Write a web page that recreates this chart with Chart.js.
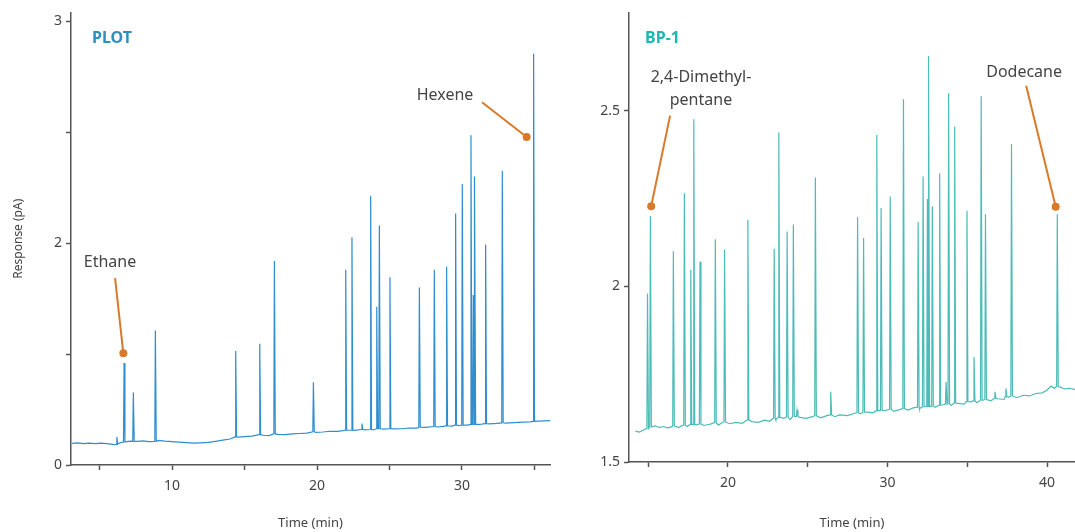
<!DOCTYPE html>
<html>
<head>
<meta charset="utf-8">
<script src="https://cdn.jsdelivr.net/npm/chart.js@4"></script>
<style>
  body { margin: 0; background: #fff; }
  .panel { position: absolute; top: 0; }
</style>
</head>
<body>
<div class="panel" style="left:0"><canvas id="plot" width="555" height="532"></canvas></div>
<div class="panel" style="left:560px"><canvas id="bp1" width="515" height="532"></canvas></div>
<script>
// PLOT column: baseline trace and peaks (time in min, response in pA)
const plotBaseTimes = [3.1, 3.5, 3.9, 4.3, 4.7, 5.1, 5.5, 5.9, 6.0, 6.4, 6.9, 7.1, 7.6, 8.0, 8.4, 9.1, 9.5, 10.0, 10.5, 11.0, 11.5, 12.0, 12.5, 13.0, 13.5, 14.0, 14.6, 15.0, 15.5, 16.3, 16.7, 17.3, 17.8, 18.3, 18.8, 19.3, 19.9, 20.4, 20.9, 21.4, 21.8, 22.6, 23.3, 23.9, 24.6, 25.3, 25.8, 26.4, 26.9, 27.5, 28.3, 28.7, 29.3, 29.8, 30.4, 31.2, 31.9, 32.4, 33.0, 33.6, 34.2, 34.7, 35.3, 35.7, 36.1];
const plotBaseValues = [0.146, 0.149, 0.145, 0.148, 0.144, 0.148, 0.145, 0.140, 0.137, 0.150, 0.158, 0.162, 0.160, 0.163, 0.158, 0.166, 0.161, 0.158, 0.154, 0.151, 0.148, 0.150, 0.153, 0.160, 0.168, 0.176, 0.188, 0.192, 0.195, 0.201, 0.199, 0.207, 0.205, 0.211, 0.213, 0.216, 0.221, 0.223, 0.228, 0.227, 0.232, 0.234, 0.238, 0.237, 0.242, 0.244, 0.245, 0.250, 0.249, 0.254, 0.257, 0.261, 0.263, 0.266, 0.270, 0.274, 0.278, 0.281, 0.283, 0.287, 0.290, 0.292, 0.296, 0.298, 0.300];
const plotPeakTimes = [6.19, 6.69, 7.33, 8.85, 14.39, 16.05, 17.06, 19.75, 21.98, 22.41, 23.1, 23.7, 24.12, 24.3, 25.03, 27.06, 28.09, 28.94, 29.56, 30.02, 30.62, 30.78, 30.88, 31.63, 32.78, 34.94];
const plotPeakTops = [0.19, 0.69, 0.49, 0.91, 0.77, 0.82, 1.38, 0.56, 1.32, 1.54, 0.28, 1.82, 1.07, 1.62, 1.27, 1.20, 1.32, 1.34, 1.70, 1.90, 2.23, 1.15, 1.95, 1.49, 1.99, 2.78];
const plotPeakBases = [0.14, 0.155, 0.16, 0.16, 0.19, 0.205, 0.21, 0.225, 0.235, 0.235, 0.24, 0.24, 0.245, 0.245, 0.245, 0.255, 0.26, 0.265, 0.27, 0.27, 0.275, 0.275, 0.275, 0.28, 0.285, 0.295];
const plotXTicks = [5, 10, 15, 20, 25, 30, 35];
const plotXLabels = ['', '10', '', '20', '', '30', ''];
const plotYTicks = [0, 0.75, 1.5, 2.25, 3];
const plotYLabels = ['0', '', '2', '', '3'];

// BP-1 column
const bpBaseTimes = [14.2, 14.45, 14.7, 15.45, 15.7, 15.95, 16.2, 16.45, 16.9, 17.1, 17.45, 18.0, 18.5, 18.9, 19.4, 19.6, 20.1, 20.5, 20.9, 21.5, 21.9, 22.3, 22.6, 23.0, 23.5, 23.9, 24.5, 24.9, 25.3, 25.8, 26.2, 26.7, 27.0, 27.5, 27.9, 28.3, 28.8, 29.1, 29.8, 30.4, 30.8, 31.3, 31.6, 32.0, 32.4, 33.0, 33.5, 34.0, 34.4, 34.8, 35.2, 35.6, 36.0, 36.5, 36.9, 37.3, 37.6, 38.1, 38.5, 38.9, 39.3, 39.7, 40.0, 40.25, 40.45, 40.8, 41.1, 41.4, 41.75];
const bpBaseValues = [1.588, 1.585, 1.591, 1.603, 1.598, 1.601, 1.597, 1.600, 1.598, 1.603, 1.601, 1.606, 1.604, 1.608, 1.605, 1.611, 1.609, 1.613, 1.610, 1.615, 1.613, 1.619, 1.616, 1.620, 1.624, 1.621, 1.627, 1.624, 1.629, 1.626, 1.632, 1.629, 1.634, 1.632, 1.638, 1.637, 1.642, 1.640, 1.646, 1.644, 1.650, 1.648, 1.654, 1.652, 1.658, 1.656, 1.663, 1.661, 1.667, 1.665, 1.671, 1.669, 1.676, 1.674, 1.680, 1.678, 1.685, 1.683, 1.690, 1.688, 1.695, 1.697, 1.705, 1.716, 1.710, 1.714, 1.708, 1.710, 1.706];
const bpPeakTimes = [14.96, 15.14, 16.58, 17.27, 17.67, 17.86, 18.25, 19.21, 19.79, 21.25, 22.9, 23.19, 23.71, 24.1, 24.33, 25.48, 26.44, 28.125, 28.5, 29.33, 29.6, 30.17, 31.0, 31.92, 32.23, 32.5, 32.58, 32.81, 33.27, 33.67, 33.83, 34.21, 34.98, 35.42, 35.87, 36.14, 36.73, 37.42, 37.77, 40.64];
const bpPeakTops = [1.98, 2.20, 2.10, 2.265, 2.047, 2.476, 2.07, 2.134, 2.105, 2.19, 2.107, 2.438, 2.156, 2.176, 1.648, 2.31, 1.70, 2.197, 2.138, 2.431, 2.223, 2.256, 2.533, 2.183, 2.313, 2.249, 2.656, 2.228, 2.322, 1.728, 2.55, 2.455, 2.215, 1.799, 2.541, 2.205, 1.70, 1.709, 2.405, 2.205];
const bpPeakBases = [1.595, 1.60, 1.603, 1.605, 1.607, 1.607, 1.608, 1.612, 1.614, 1.62, 1.625, 1.627, 1.628, 1.63, 1.63, 1.632, 1.634, 1.64, 1.642, 1.646, 1.647, 1.65, 1.652, 1.656, 1.657, 1.658, 1.658, 1.659, 1.662, 1.665, 1.666, 1.668, 1.672, 1.674, 1.676, 1.678, 1.682, 1.686, 1.688, 1.715];
const bpXTicks = [15, 20, 25, 30, 35, 40];
const bpXLabels = ['', '20', '', '30', '', '40'];
const bpYTicks = [1.5, 2, 2.5];
const bpYLabels = ['1.5', '2', '2.5'];

const FONT = '"Noto Sans", "DejaVu Sans", sans-serif';
const INK = '#444';
const ORANGE = '#d97a2b';

// merge baseline knots with narrow peak spikes
function trace(baseT, baseV, peakT, peakTop, peakBase) {
    const pts = baseT.map((t, i) => ({ x: t, y: baseV[i] }));
    peakT.forEach((t, i) => {
        pts.push({ x: t - 0.04, y: peakBase[i] });
        pts.push({ x: t, y: peakTop[i] });
        pts.push({ x: t + 0.06, y: peakBase[i] });
    });
    return pts.sort((a, b) => a.x - b.x);
}

// panel name, leader lines, dots and compound labels
const callouts = {
    id: 'callouts',
    afterDatasetsDraw(chart, args, opts) {
        const { ctx, scales: { x, y } } = chart;
        const px = (p) => [x.getPixelForValue(p[0]), y.getPixelForValue(p[1])];
        ctx.save();
        ctx.textBaseline = 'middle';
        ctx.textAlign = 'left';
        ctx.font = 'bold 16px ' + FONT;
        ctx.fillStyle = opts.titleColor;
        const [tx, ty] = px(opts.titleAt);
        ctx.fillText(opts.title, tx, ty);

        ctx.font = '16px ' + FONT;
        ctx.textAlign = 'center';
        opts.items.forEach(c => {
            const [lx, ly] = px(c.text);
            c.lines.forEach((s, i) => {
                ctx.fillStyle = INK;
                ctx.fillText(s, lx, ly + i * 23);
            });
            const [fx, fy] = px(c.from);
            const [dx, dy] = px(c.dot);
            ctx.strokeStyle = ORANGE;
            ctx.lineWidth = 2;
            ctx.beginPath();
            ctx.moveTo(fx, fy);
            ctx.lineTo(dx, dy);
            ctx.stroke();
            ctx.fillStyle = ORANGE;
            ctx.beginPath();
            ctx.arc(dx, dy, 4, 0, Math.PI * 2);
            ctx.fill();
        });
        ctx.restore();
    }
};

function axisGrid() {
    return { display: true, drawOnChartArea: false, drawTicks: true, tickLength: 5, tickColor: '#555', tickWidth: 1.5 };
}

function makeChart(id, cfg) {
    return new Chart(document.getElementById(id), {
        type: 'scatter',
        plugins: [callouts],
        data: {
            datasets: [{
                data: cfg.points,
                showLine: true,
                borderColor: cfg.color,
                borderWidth: 1.2,
                pointRadius: 0,
                tension: 0
            }]
        },
        options: {
            responsive: false,
            animation: false,
            devicePixelRatio: 1,
            layout: { padding: { top: 12, right: cfg.padRight, left: 0, bottom: 0 } },
            plugins: {
                legend: { display: false },
                tooltip: { enabled: false },
                callouts: cfg.callouts
            },
            scales: {
                x: {
                    type: 'linear',
                    min: cfg.xMin, max: cfg.xMax,
                    afterFit: (s) => { s.height = cfg.xHeight; },
                    afterBuildTicks: (s) => { s.ticks = cfg.xTicks.map(v => ({ value: v })); },
                    grid: axisGrid(),
                    border: { display: true, color: '#555', width: 1.5 },
                    ticks: {
                        color: INK, padding: 8, maxRotation: 0, autoSkip: false,
                        font: { family: FONT, size: 14 },
                        callback: (v, i) => cfg.xLabels[i]
                    },
                    title: {
                        display: true, text: 'Time (min)', color: INK,
                        font: { family: FONT, size: 13 },
                        padding: { top: 0, bottom: 1 }
                    }
                },
                y: {
                    type: 'linear',
                    min: cfg.yMin, max: cfg.yMax,
                    afterFit: (s) => { s.width = cfg.yWidth; },
                    afterBuildTicks: (s) => { s.ticks = cfg.yTicks.map(v => ({ value: v })); },
                    grid: axisGrid(),
                    border: { display: true, color: '#555', width: 1.5 },
                    ticks: {
                        color: INK, padding: 4, autoSkip: false,
                        font: { family: FONT, size: 14 },
                        callback: (v, i) => cfg.yLabels[i]
                    },
                    title: {
                        display: !!cfg.yTitle, text: cfg.yTitle || '', color: INK,
                        font: { family: FONT, size: 12 },
                        padding: { top: 11, bottom: 0 }
                    }
                }
            }
        }
    });
}

makeChart('plot', {
    points: trace(plotBaseTimes, plotBaseValues, plotPeakTimes, plotPeakTops, plotPeakBases),
    color: '#2f8ecf',
    xMin: 3.03, xMax: 36.07, yMin: 0, yMax: 3.06,
    xTicks: plotXTicks, xLabels: plotXLabels,
    yTicks: plotYTicks, yLabels: plotYLabels,
    xHeight: 67, yWidth: 71, padRight: 5,
    yTitle: 'Response (pA)',
    callouts: {
        title: 'PLOT', titleColor: '#2e8fc0', titleAt: [4.48, 2.885],
        items: [
            { lines: ['Ethane'], text: [5.72, 1.372], from: [6.07, 1.264], dot: [6.64, 0.755] },
            { lines: ['Hexene'], text: [28.83, 2.5], from: [31.38, 2.453], dot: [34.46, 2.218] }
        ]
    }
});

makeChart('bp1', {
    points: trace(bpBaseTimes, bpBaseValues, bpPeakTimes, bpPeakTops, bpPeakBases),
    color: '#4bbcb7',
    xMin: 13.8, xMax: 41.75, yMin: 1.5, yMax: 2.78,
    xTicks: bpXTicks, xLabels: bpXLabels,
    yTicks: bpYTicks, yLabels: bpYLabels,
    xHeight: 70, yWidth: 69, padRight: 0,
    yTitle: null,
    callouts: {
        title: 'BP-1', titleColor: '#1bb8b1', titleAt: [14.81, 2.705],
        items: [
            { lines: ['2,4-Dimethyl-', 'pentane'], text: [18.31, 2.594], from: [16.375, 2.486], dot: [15.19, 2.228] },
            { lines: ['Dodecane'], text: [38.56, 2.608], from: [38.69, 2.571], dot: [40.54, 2.227] }
        ]
    }
});
</script>
</body>
</html>
